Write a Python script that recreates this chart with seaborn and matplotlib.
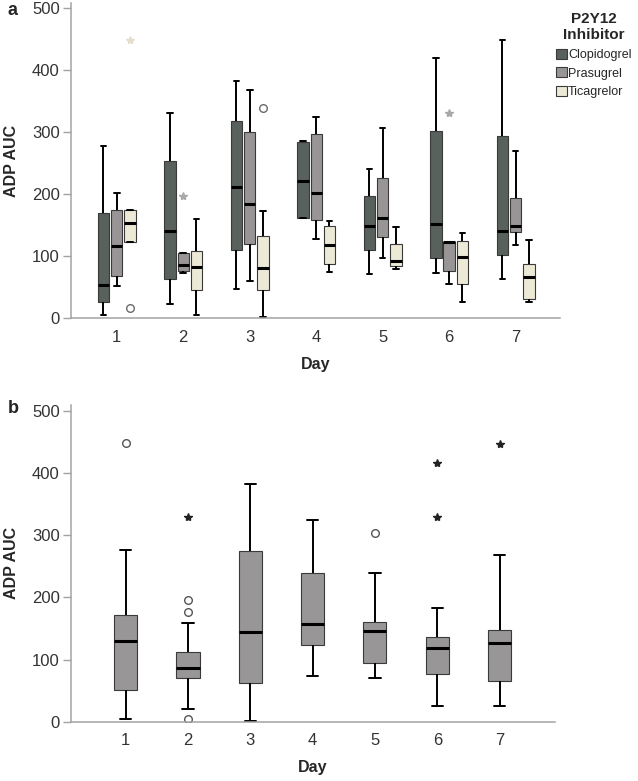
import seaborn as sns
import numpy as np
import pandas as pd
import matplotlib.pyplot as plt

# Days on the x axis
days = ['1', '2', '3', '4', '5', '6', '7']
inhibitors = ['Clopidogrel', 'Prasugrel', 'Ticagrelor']

# Panel a: per day [low whisker, Q1, median, Q3, high whisker]
clopidogrel = [
    [4, 25, 53, 169, 278],
    [23, 62, 140, 253, 330],
    [47, 109, 211, 317, 383],
    [161, 161, 221, 284, 286],
    [71, 109, 149, 196, 241],
    [73, 97, 152, 301, 419],
    [62, 101, 140, 294, 449],
]
prasugrel = [
    [51, 67, 116, 174, 202],
    [72, 75, 86, 105, 105],
    [60, 120, 184, 300, 368],
    [127, 158, 202, 296, 325],
    [97, 131, 161, 225, 306],
    [55, 76, 122, 123, 123],
    [118, 138, 148, 194, 269],
]
ticagrelor = [
    [123, 123, 153, 174, 174],
    [4, 45, 82, 108, 160],
    [1, 45, 81, 132, 173],
    [74, 87, 117, 148, 157],
    [79, 83, 91, 120, 146],
    [25, 54, 98, 124, 137],
    [26, 30, 66, 87, 126],
]
# Panel a outliers: (day, inhibitor, value, marker)
outliers_a = [
    ('1', 'Ticagrelor', 449, '*'),
    ('1', 'Ticagrelor', 16, 'o'),
    ('2', 'Prasugrel', 197, '*'),
    ('3', 'Ticagrelor', 338, 'o'),
    ('6', 'Prasugrel', 331, '*'),
]

# Panel b: all patients, per day [low whisker, Q1, median, Q3, high whisker]
all_patients = [
    [4, 51, 130, 172, 276],
    [21, 71, 87, 112, 159],
    [1, 63, 145, 275, 382],
    [73, 123, 157, 240, 324],
    [71, 94, 146, 161, 240],
    [25, 76, 119, 137, 183],
    [25, 65, 126, 148, 268],
]
outliers_b = [
    ('1', 448, 'o'),
    ('2', 329, '*'),
    ('2', 196, 'o'),
    ('2', 176, 'o'),
    ('2', 4, 'o'),
    ('5', 304, 'o'),
    ('6', 417, '*'),
    ('6', 330, '*'),
    ('7', 447, '*'),
]

palette = {'Clopidogrel': '#56625b', 'Prasugrel': '#9a9497', 'Ticagrelor': '#f1ecd3'}
star_color = {'Clopidogrel': '#777777', 'Prasugrel': '#a8a8a8', 'Ticagrelor': '#e3dfcc'}

sns.set_style('white')
plt.rcParams['font.family'] = ['Liberation Sans', 'DejaVu Sans']

# five-number rows -> long table (percentiles of 5 values give back Q1/median/Q3)
rows = []
for name, table in zip(inhibitors, [clopidogrel, prasugrel, ticagrelor]):
    for d, vals in zip(days, table):
        for v in vals:
            rows.append({'Day': d, 'Inhibitor': name, 'AUC': v})
df_a = pd.DataFrame(rows)
df_b = pd.DataFrame([{'Day': d, 'AUC': v} for d, vals in zip(days, all_patients) for v in vals])

fig = plt.figure(figsize=(6.38, 7.81), dpi=100)
ax1 = fig.add_axes([0.111, 0.593, 0.766, 0.403])
ax2 = fig.add_axes([0.111, 0.076, 0.759, 0.4055])

line_kws = dict(
    whiskerprops={'color': 'black', 'linewidth': 1.4},
    capprops={'color': 'black', 'linewidth': 1.4},
    medianprops={'color': 'black', 'linewidth': 2.2},
    boxprops={'edgecolor': '#3a3a3a', 'linewidth': 0.8},
)

group_width = 0.6
sns.boxplot(data=df_a, x='Day', y='AUC', hue='Inhibitor', order=days, hue_order=inhibitors,
            palette=palette, width=group_width, gap=0.15, whis=(0, 100), showfliers=False,
            ax=ax1, **line_kws)

slot = group_width / len(inhibitors)
for d, name, v, m in outliers_a:
    xpos = days.index(d) + (inhibitors.index(name) - 1) * slot
    if m == '*':
        ax1.plot(xpos, v, marker='*', ms=6, color=star_color[name], mec=star_color[name], ls='none')
    else:
        ax1.plot(xpos, v, marker='o', ms=5.5, mfc='white', mec='#6a6a6a', mew=1.0, ls='none')

sns.boxplot(data=df_b, x='Day', y='AUC', order=days, color='#9a9597', width=0.37,
            whis=(0, 100), showfliers=False, ax=ax2, **line_kws)
for d, v, m in outliers_b:
    xpos = days.index(d)
    if m == '*':
        ax2.plot(xpos, v, marker='*', ms=6, color='#222222', ls='none')
    else:
        ax2.plot(xpos, v, marker='o', ms=5.5, mfc='white', mec='#555555', mew=1.0, ls='none')

for ax, xl, yl in [(ax1, (-0.69, 6.66), (0, 508)), (ax2, (-0.88, 6.89), (0, 510))]:
    ax.set_xlim(*xl)
    ax.set_ylim(*yl)
    ax.set_yticks([0, 100, 200, 300, 400, 500])
    for s in ['top', 'right']:
        ax.spines[s].set_visible(False)
    for s in ['left', 'bottom']:
        ax.spines[s].set_color('#a3a3a3')
        ax.spines[s].set_linewidth(1.1)
    ax.tick_params(axis='y', left=True, length=6, width=1.0, color='#a3a3a3',
                   labelsize=12, labelcolor='#333333', pad=2)
    ax.tick_params(axis='x', bottom=False, labelsize=12, labelcolor='#333333', pad=5)
    ax.set_xlabel('Day', fontsize=11.5, fontweight='bold')
    ax.set_ylabel('ADP AUC', fontsize=11.5, fontweight='bold')

ax1.yaxis.set_label_coords(-0.106, 0.5)
ax2.yaxis.set_label_coords(-0.107, 0.5)
ax1.xaxis.set_label_coords(0.5, -0.125)
ax2.xaxis.set_label_coords(0.5, -0.12)

sns.move_legend(ax1, loc='upper left', bbox_to_anchor=(0.99, 0.975), frameon=False,
                title='P2Y12\nInhibitor', fontsize=9,
                title_fontproperties={'weight': 'bold', 'size': 11},
                handlelength=0.85, handleheight=0.85, handletextpad=0.12,
                labelspacing=0.5, borderaxespad=0.0, borderpad=0.1)
leg = ax1.get_legend()
leg.get_title().set_multialignment('center')
for h in leg.legend_handles:
    h.set_edgecolor('#3a3a3a')
    h.set_linewidth(0.8)

fig.text(0.012, 0.987, 'a', fontsize=13, fontweight='bold', va='center', ha='left')
fig.text(0.012, 0.477, 'b', fontsize=13, fontweight='bold', va='center', ha='left')

fig.savefig('out.png', dpi=100)
